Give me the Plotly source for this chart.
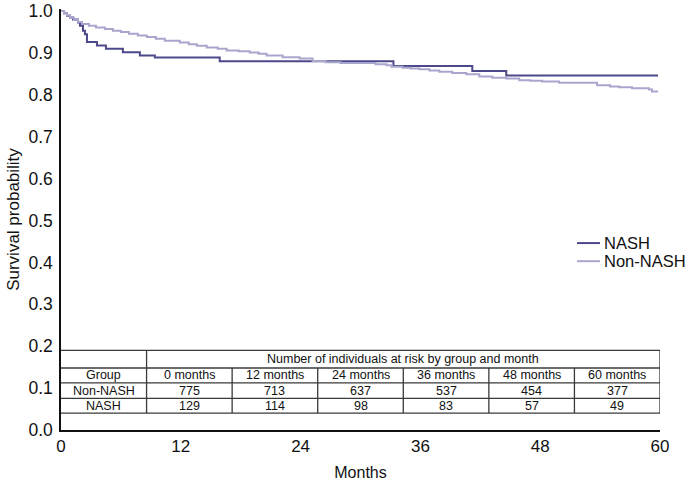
import plotly.graph_objects as go

# ---- Data ----
nash_t = [0, 0.3, 0.6, 0.9, 1.2, 1.7, 1.9, 2.2, 2.4, 2.6, 3.6, 4.5, 6.2, 7.9, 9.4,
          15.9, 33.3, 41.2, 44.6, 59.8]
nash_s = [1.0, 0.995, 0.989, 0.985, 0.980, 0.973, 0.965, 0.953, 0.945, 0.926, 0.918,
          0.910, 0.902, 0.894, 0.889, 0.880, 0.869, 0.857, 0.846, 0.846]

non_t = [0, 0.3, 0.6, 0.9, 1.3, 1.7, 2.1, 2.8, 3.5, 4.4, 5.2, 6.0, 6.8, 7.7, 8.6,
         9.5, 10.4, 11.9, 12.8, 13.6, 14.6, 15.7, 16.6, 17.8, 18.9, 19.8, 20.6,
         22.2, 23.9, 25.2, 26.5, 28.0, 31.5, 32.6, 33.1, 34.2, 35.0, 35.9, 36.9,
         37.9, 39.2, 40.6, 41.9, 43.2, 44.6, 45.9, 47.0, 48.2, 49.9, 53.7, 55.0,
         55.9, 57.2, 58.9, 59.2, 59.8]
non_s = [1.0, 0.995, 0.990, 0.984, 0.979, 0.974, 0.969, 0.965, 0.961, 0.957, 0.953,
         0.950, 0.946, 0.942, 0.938, 0.934, 0.929, 0.925, 0.921, 0.917, 0.913, 0.910,
         0.906, 0.904, 0.901, 0.898, 0.894, 0.890, 0.887, 0.881, 0.878, 0.876, 0.873,
         0.871, 0.867, 0.865, 0.863, 0.861, 0.858, 0.855, 0.852, 0.849, 0.844, 0.841,
         0.839, 0.835, 0.834, 0.832, 0.829, 0.823, 0.820, 0.818, 0.816, 0.813, 0.808,
         0.808]
assert len(nash_t) == len(nash_s) and len(non_t) == len(non_s)

x_ticks = [0, 12, 24, 36, 48, 60]
y_ticks = [0.0, 0.1, 0.2, 0.3, 0.4, 0.5, 0.6, 0.7, 0.8, 0.9, 1.0]

series_names = ["NASH", "Non-NASH"]

table_title = "Number of individuals at risk by group and month"
table_header = ["Group", "0 months", "12 months", "24 months", "36 months",
                "48 months", "60 months"]
risk_groups = ["Non-NASH", "NASH"]
risk_non_nash = [775, 713, 637, 537, 454, 377]
risk_nash = [129, 114, 98, 83, 57, 49]

DARK = "#4b4989"
LIGHT = "#a9a6cd"
COLORS = [DARK, LIGHT]
FONT = "Liberation Sans, Arial, Helvetica, sans-serif"

fig = go.Figure()
fig.add_trace(go.Scatter(x=nash_t, y=nash_s, mode="lines", line_shape="hv",
                         line=dict(color=DARK, width=2), name=series_names[0]))
fig.add_trace(go.Scatter(x=non_t, y=non_s, mode="lines", line_shape="hv",
                         line=dict(color=LIGHT, width=2), name=series_names[1]))

# ---- Risk table drawn inside the plot area (data coordinates) ----
x0, x1 = x_ticks[0], x_ticks[-1]
ncol = len(table_header)
col_edges = [x0 + (x1 - x0) * k / ncol for k in range(ncol + 1)]
row_edges = [0.190, 0.148, 0.1125, 0.0757, 0.0403]  # top -> bottom
LC = "#3a3a3a"
LW = 1.3
shapes = []
for yv in row_edges:
    shapes.append(dict(type="line", xref="x", yref="y", x0=x0, x1=x1, y0=yv, y1=yv,
                       line=dict(color=LC, width=LW)))
for k in range(1, ncol + 1):
    ytop = row_edges[0] if k in (1, ncol) else row_edges[1]
    shapes.append(dict(type="line", xref="x", yref="y", x0=col_edges[k], x1=col_edges[k],
                       y0=row_edges[-1], y1=ytop, line=dict(color=LC, width=LW)))

annotations = []
TF = dict(family=FONT, size=12.5, color="#111")
annotations.append(dict(x=(col_edges[1] + col_edges[-1]) / 2, y=(row_edges[0] + row_edges[1]) / 2,
                        xref="x", yref="y", text=table_title, showarrow=False, font=TF))
rows = [table_header,
        [risk_groups[0]] + [str(v) for v in risk_non_nash],
        [risk_groups[1]] + [str(v) for v in risk_nash]]
for r, row in enumerate(rows):
    yc = (row_edges[r + 1] + row_edges[r + 2]) / 2
    for c, txt in enumerate(row):
        annotations.append(dict(x=(col_edges[c] + col_edges[c + 1]) / 2, y=yc,
                                xref="x", yref="y", text=txt, showarrow=False, font=TF))

# ---- Legend (drawn as keys + labels so it does not push the margins) ----
leg_x0, leg_x1, leg_tx = 0.8614, 0.8998, 0.903
leg_y = [0.444, 0.401]
for name, col, yy in zip(series_names, COLORS, leg_y):
    shapes.append(dict(type="line", xref="paper", yref="paper", x0=leg_x0, x1=leg_x1,
                       y0=yy, y1=yy, line=dict(color=col, width=2)))
    annotations.append(dict(x=leg_tx, y=yy, xref="paper", yref="paper", text=name,
                            showarrow=False, xanchor="left", yanchor="middle",
                            font=dict(family=FONT, size=16.5, color="#111")))

fig.update_layout(
    width=686, height=481,
    margin=dict(l=61, r=26, t=9, b=51),
    paper_bgcolor="white", plot_bgcolor="white",
    font=dict(family=FONT, size=17, color="#111"),
    shapes=shapes, annotations=annotations,
    showlegend=False,
    xaxis=dict(range=[0, 60], tickvals=x_ticks, ticktext=[str(v) for v in x_ticks],
               showline=True, linecolor="#111", linewidth=1.5, ticks="",
               showgrid=False, zeroline=False, tickfont=dict(size=17), automargin=False,
               title=dict(text="Months", font=dict(size=16), standoff=16)),
    yaxis=dict(range=[0, 1.005], tickvals=y_ticks, ticktext=[f"{v:.1f}" for v in y_ticks],
               showline=True, linecolor="#111", linewidth=1.5, ticks="",
               showgrid=False, zeroline=False, tickfont=dict(size=17.5), automargin=False,
               ticklabelstandoff=3, ticklabeloverflow="allow",
               title=dict(text="Survival probability", font=dict(size=17), standoff=4)),
)

fig.write_html("out.html", config={"displayModeBar": False},
               post_script="document.body.style.margin='0';")
